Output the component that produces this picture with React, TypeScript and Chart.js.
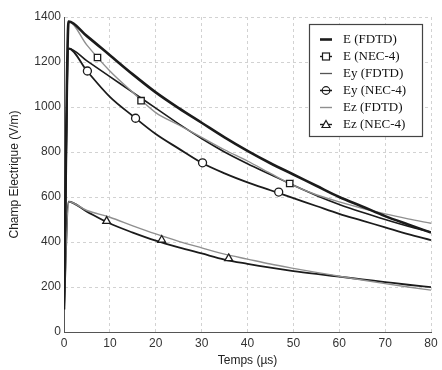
import React, { useEffect, useRef } from "react";
import { Chart, registerables } from "chart.js";

Chart.register(...registerables);

// Time axis (µs) shared by all curves
const T = [0, 1, 5, 10, 15, 20, 25, 30, 35, 40, 45, 50, 55, 60, 65, 70, 75, 80];

// Curves (V/m)
const E_FDTD = [100, 1380, 1315, 1230, 1145, 1065, 995, 930, 865, 805, 750, 700, 650, 600, 558, 515, 478, 442];
const E_NEC = [100, 1380, 1275, 1160, 1065, 975, 920, 865, 810, 760, 705, 652, 610, 578, 550, 525, 503, 483];
const EY_FDTD = [100, 1260, 1205, 1135, 1065, 995, 925, 860, 800, 748, 700, 652, 607, 567, 532, 500, 470, 444];
const EY_NEC = [100, 1260, 1160, 1045, 960, 880, 815, 752, 705, 665, 630, 595, 560, 525, 495, 465, 435, 408];
const EZ_FDTD = [100, 579, 540, 510, 472, 436, 403, 374, 346, 324, 302, 283, 265, 248, 231, 215, 200, 186];
const EZ_NEC = [100, 579, 535, 482, 442, 406, 376, 349, 322, 303, 286, 271, 258, 246, 234, 222, 210, 199];

// NEC-4 markers
const SQ_T = [7.3, 16.8, 49.2];
const SQ_V = [1220, 1028, 660];
const CI_T = [5.1, 15.6, 30.2, 46.8];
const CI_V = [1160, 950, 752, 622];
const TR_T = [9.3, 21.3, 35.9];
const TR_V = [493, 409, 327];

// Axis ticks
const X_MIN = 0, X_MAX = 80, X_STEP = 10;
const Y_MIN = 0, Y_MAX = 1400, Y_STEP = 200;

const LEGEND_LABELS = ["E (FDTD)", "E (NEC-4)", "Ey (FDTD)", "Ey (NEC-4)", "Ez (FDTD)", "Ez (NEC-4)"];

const BLACK = "#1b1b1b";
const GRAY = "#8f8f8f";

const pts = (xs: number[], ys: number[]) => xs.map((x, i) => ({ x, y: ys[i] }));

const lineDs = (label: string, ys: number[], color: string, width: number) => ({
  label,
  data: pts(T, ys),
  borderColor: color,
  borderWidth: width,
  pointRadius: 0,
  fill: false,
  cubicInterpolationMode: "monotone" as const,
  order: 2,
});

const markerDs = (label: string, xs: number[], ys: number[], style: string, r: number) => ({
  label,
  data: pts(xs, ys),
  showLine: false,
  pointStyle: style,
  pointRadius: r,
  pointBackgroundColor: "#ffffff",
  pointBorderColor: BLACK,
  pointBorderWidth: 1.3,
  order: 0,
});

const legendPlugin = {
  id: "boxLegend",
  afterDraw(chart: any) {
    const ctx = chart.ctx;
    const bx = 309, by = 24, bw = 113, bh = 112;
    ctx.save();
    ctx.fillStyle = "#ffffff";
    ctx.fillRect(bx, by, bw, bh);
    ctx.strokeStyle = "#444";
    ctx.lineWidth = 1.2;
    ctx.strokeRect(bx + 0.5, by + 0.5, bw, bh);
    ctx.font = "13px 'Liberation Serif', 'Times New Roman', serif";
    ctx.textBaseline = "middle";
    ctx.fillStyle = "#111";
    const sx = 326;
    LEGEND_LABELS.forEach((lab, i) => {
      const y = 39.5 + i * 17;
      ctx.beginPath();
      ctx.moveTo(sx - 6, y);
      ctx.lineTo(sx + 6, y);
      if (i === 0) { ctx.strokeStyle = BLACK; ctx.lineWidth = 2.6; }
      else if (i === 4) { ctx.strokeStyle = GRAY; ctx.lineWidth = 1.4; }
      else if (i === 2) { ctx.strokeStyle = "#555"; ctx.lineWidth = 1.3; }
      else { ctx.strokeStyle = BLACK; ctx.lineWidth = 1.4; }
      ctx.stroke();
      ctx.lineWidth = 1.2;
      ctx.strokeStyle = BLACK;
      ctx.fillStyle = "#fff";
      if (i === 1) {
        ctx.fillRect(sx - 3.5, y - 3.5, 7, 7);
        ctx.strokeRect(sx - 3.5, y - 3.5, 7, 7);
      } else if (i === 3) {
        ctx.beginPath();
        ctx.arc(sx, y, 3.8, 0, Math.PI * 2);
        ctx.fill();
        ctx.stroke();
        ctx.beginPath();
        ctx.moveTo(sx - 6, y);
        ctx.lineTo(sx + 6, y);
        ctx.stroke();
      } else if (i === 5) {
        ctx.beginPath();
        ctx.moveTo(sx, y - 4);
        ctx.lineTo(sx + 4, y + 3);
        ctx.lineTo(sx - 4, y + 3);
        ctx.closePath();
        ctx.fill();
        ctx.stroke();
      }
      ctx.fillStyle = "#111";
      ctx.fillText(lab, 343, y);
    });
    ctx.restore();
  },
};

export default function App() {
  const ref = useRef<HTMLCanvasElement | null>(null);
  useEffect(() => {
    if (!ref.current) return;
    const tickFont = { family: "'Liberation Sans', Arial, sans-serif", size: 12 };
    const chart = new Chart(ref.current, {
      type: "line",
      data: {
        datasets: [
          lineDs("E (FDTD)", E_FDTD, BLACK, 2.6),
          lineDs("E (NEC-4)", E_NEC, GRAY, 1.4),
          lineDs("Ey (FDTD)", EY_FDTD, BLACK, 1.6),
          lineDs("Ey (NEC-4)", EY_NEC, BLACK, 1.8),
          lineDs("Ez (FDTD)", EZ_FDTD, GRAY, 1.4),
          lineDs("Ez (NEC-4)", EZ_NEC, BLACK, 1.8),
          markerDs("E (NEC-4) pts", SQ_T, SQ_V, "rect", 4.5),
          markerDs("Ey (NEC-4) pts", CI_T, CI_V, "circle", 4),
          markerDs("Ez (NEC-4) pts", TR_T, TR_V, "triangle", 4.5),
        ] as any,
      },
      options: {
        responsive: false,
        animation: false,
        devicePixelRatio: 1,
        layout: { padding: { top: 17, right: 11, left: 0, bottom: 0 } },
        plugins: { legend: { display: false }, tooltip: { enabled: false } },
        scales: {
          x: {
            type: "linear",
            min: X_MIN,
            max: X_MAX,
            ticks: { stepSize: X_STEP, color: "#333", font: tickFont, padding: 4, maxRotation: 0, callback: (v: any) => String(v) },
            grid: { color: "#d2d2d2", drawTicks: false, lineWidth: 1 },
            border: { color: "#555", width: 1, dash: [3, 3] },
            title: { display: true, text: "Temps (µs)", color: "#222", font: tickFont, padding: { top: 0, bottom: 2 } },
            afterFit: (s: any) => { s.height = 38; },
          },
          y: {
            type: "linear",
            min: Y_MIN,
            max: Y_MAX,
            ticks: { stepSize: Y_STEP, color: "#333", font: tickFont, padding: 3, callback: (v: any) => String(v) },
            grid: { color: "#d2d2d2", drawTicks: false, lineWidth: 1 },
            border: { color: "#555", width: 1, dash: [3, 3] },
            title: { display: true, text: "Champ Electrique (V/m)", color: "#222", font: tickFont, padding: { top: 7, bottom: 0 } },
            afterFit: (s: any) => { s.width = 64; },
          },
        },
      } as any,
      plugins: [legendPlugin],
    });
    return () => chart.destroy();
  }, []);
  return (
    <div style={{ position: "fixed", left: 0, top: 0, width: 442, height: 370, background: "#fff" }}>
      <canvas ref={ref} width={442} height={370} style={{ width: 442, height: 370, display: "block" }} />
    </div>
  );
}
